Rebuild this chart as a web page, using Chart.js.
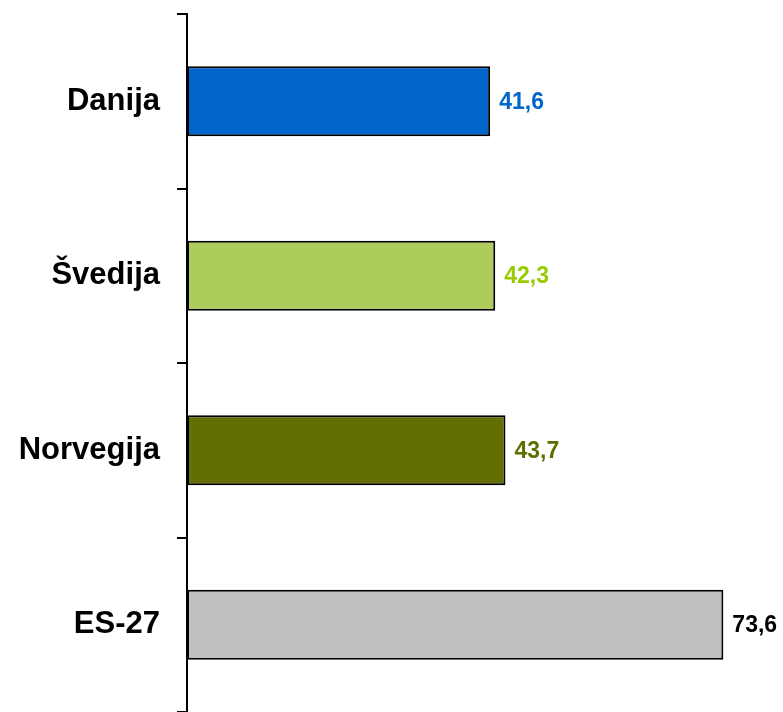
<!DOCTYPE html>
<html>
<head>
<meta charset="utf-8">
<script src="https://cdn.jsdelivr.net/npm/chart.js@4/dist/chart.umd.min.js"></script>
<style>
  html, body { margin: 0; padding: 0; background: #fff; }
  #wrap { width: 783px; height: 712px; position: relative; }
</style>
</head>
<body>
<div id="wrap"><canvas id="grafik"></canvas></div>
<script>
// Podaci
const drzave = ['Danija', 'Švedija', 'Norvegija', 'ES-27'];
const vrijednosti = [41.6, 42.3, 43.7, 73.6];
const bojeStupaca = ['#0066CC', '#ADCC5C', '#636E05', '#C0C0C0'];
const bojeOznaka = ['#0066CC', '#99CC00', '#5F6E00', '#000000'];

// Oznake vrijednosti desno od stupca
const oznakeVrijednosti = {
    id: 'oznakeVrijednosti',
    afterDatasetsDraw(chart) {
        const ctx = chart.ctx;
        const meta = chart.getDatasetMeta(0);
        ctx.save();
        ctx.font = 'bold 23px "Liberation Sans", Arial, sans-serif';
        ctx.textAlign = 'left';
        ctx.textBaseline = 'middle';
        meta.data.forEach((bar, i) => {
            ctx.fillStyle = bojeOznaka[i];
            ctx.fillText(vrijednosti[i].toFixed(1).replace('.', ','), bar.x + 9, bar.y + 1);
        });
        ctx.restore();
    }
};

new Chart(document.getElementById('grafik').getContext('2d'), {
    type: 'bar',
    data: {
        labels: drzave,
        datasets: [{
            data: vrijednosti,
            backgroundColor: bojeStupaca,
            borderColor: '#000000',
            borderWidth: 2,
            borderSkipped: false,
            categoryPercentage: 0.4,
            barPercentage: 1.0
        }]
    },
    options: {
        indexAxis: 'y',
        responsive: true,
        maintainAspectRatio: false,
        animation: false,
        layout: { padding: { top: 14, right: 13, bottom: 0, left: 0 } },
        plugins: {
            legend: { display: false },
            tooltip: { enabled: false }
        },
        scales: {
            x: {
                display: false,
                min: 0,
                max: 80
            },
            y: {
                afterFit(scale) {
                    scale.width = 187;
                    scale.paddingTop = 0;
                    scale.paddingBottom = 0;
                },
                grid: {
                    offset: true,
                    drawOnChartArea: false,
                    drawTicks: true,
                    tickLength: 10,
                    color: '#000000',
                    lineWidth: 2
                },
                border: { display: true, color: '#000000', width: 2 },
                ticks: {
                    color: '#000000',
                    padding: 17,
                    font: { family: '"Liberation Sans", Arial, sans-serif', size: 31, weight: 'bold' }
                }
            }
        }
    },
    plugins: [oznakeVrijednosti]
});
</script>
</body>
</html>
